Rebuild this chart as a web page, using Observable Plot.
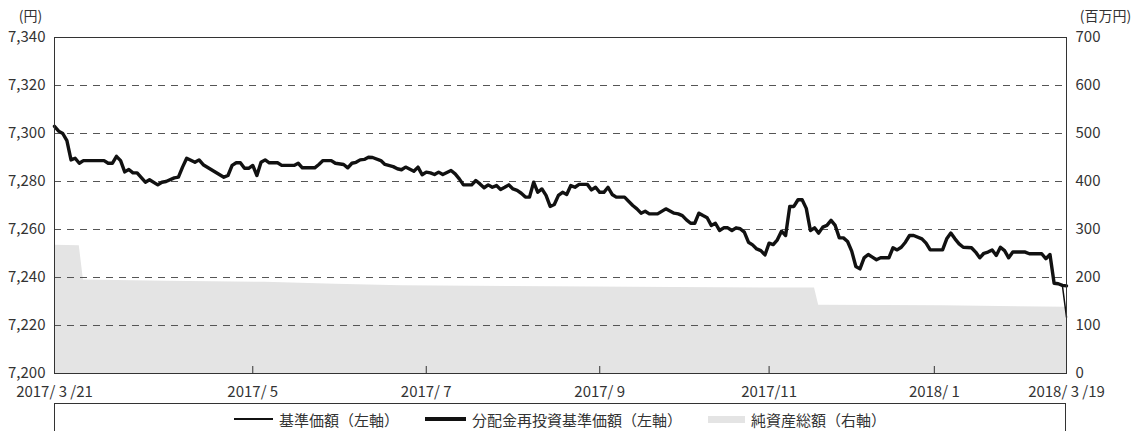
<!DOCTYPE html>
<html>
<head>
<meta charset="utf-8">
<script src="https://cdn.jsdelivr.net/npm/d3@7"></script>
<script src="https://cdn.jsdelivr.net/npm/@observablehq/plot@0.6"></script>
<style>
  html, body { margin: 0; padding: 0; background: #fff; }
  body { width: 1146px; font-family: 'Noto Sans CJK JP', 'Noto Sans', sans-serif; }
  #legend {
    margin-left: 54px; width: 1010px; height: 30px; margin-top: 3px;
    border: 1px solid #333; border-bottom: none;
    display: flex; justify-content: center; align-items: center;
    font-size: 15px; color: #333;
  }
  #legend .item { display: flex; align-items: center; margin: 0 13px; }
  #legend .sw { display: inline-block; margin-right: 6px; }
</style>
</head>
<body>
<div id="chart"></div>
<div id="legend"></div>
<script>
// Trading-day index (0 = 2017/3/21, 245 = 2018/3/19)
const dayIndex = [0,1,2,3,4,5,6,7,12,13,14,15,16,17,18,19,20,22,23,25,26,27,29,30,31,32,34,35,36,41,42,43,44,45,46,47,48,49,50,51,52,54,55,58,59,60,63,64,65,67,68,70,71,72,73,74,75,76,77,79,80,82,83,84,85,87,88,89,90,91,92,93,94,96,97,98,99,101,102,103,104,105,106,107,108,109,110,111,112,113,114,115,116,117,118,119,120,121,122,123,124,125,126,127,129,130,131,132,133,134,135,136,138,140,141,142,143,144,146,148,150,151,152,153,154,155,156,157,158,159,160,161,162,163,164,165,166,167,168,169,170,171,172,173,174,175,176,177,178,179,180,181,182,183,184,185,186,187,188,189,190,191,192,193,194,195,196,197,198,199,200,202,203,204,205,206,207,208,210,211,212,214,215,216,217,218,219,220,222,223,224,225,226,227,228,229,230,231,232,235,236,239,240,241,242,243,244,245];
// 分配金再投資基準価額 (円)
const reinvested = [7303,7301,7300,7297,7289,7289.7,7287.6,7288.7,7288.7,7287.6,7287.6,7290.5,7288.7,7284,7285,7283.6,7283.6,7279.7,7280.7,7278.6,7279.7,7280,7281.5,7281.8,7286,7289.7,7288,7289,7287,7281.8,7282.5,7286.7,7287.8,7287.8,7285.5,7285.5,7286.7,7282.5,7288,7289,7287.8,7287.8,7286.7,7286.7,7287.6,7285.7,7285.7,7287.1,7288.7,7288.7,7287.6,7287.1,7285.7,7287.6,7288,7289,7289.2,7290.1,7290,7288.7,7287.1,7286.2,7285.3,7284.9,7286,7284.3,7286,7282.8,7283.9,7283.6,7282.9,7283.9,7282.9,7284.6,7283.2,7281.1,7278.6,7278.6,7280.4,7279,7277.4,7278.6,7277.6,7278.3,7276.7,7277.6,7278.6,7276.9,7276.3,7275.1,7273.5,7273.5,7279.7,7275.5,7276.9,7274.2,7269.6,7270.4,7274.2,7275.5,7274.6,7278.3,7277.6,7278.8,7278.8,7276.5,7277.6,7275.5,7275.5,7277.6,7274.6,7273.5,7273.5,7270,7268.6,7266.8,7267.6,7266.5,7266.5,7268.6,7266.8,7266.5,7265.8,7264,7262.6,7262.6,7266.8,7265.8,7264.9,7261.7,7262.6,7259.6,7260.7,7260.7,7259.6,7260.7,7260.3,7258.9,7254.7,7253.6,7251.9,7251.2,7249.4,7254.3,7253.7,7255.7,7259.3,7257.5,7269.6,7269.6,7272.4,7272.4,7268.8,7259.6,7260.7,7258.5,7261,7261.7,7263.8,7261.7,7256.5,7256.5,7255,7251,7244.6,7243.6,7248.2,7249.6,7248.5,7247.4,7248.2,7248.2,7252.4,7251.5,7252.6,7254.7,7257.5,7257.5,7256.1,7254.3,7251.5,7251.5,7251.5,7256.1,7258.5,7256.1,7254,7252.6,7252.4,7250.6,7248.2,7250.1,7250.6,7251.5,7249.2,7252.6,7251.2,7248.2,7250.6,7250.6,7249.9,7249.9,7247.8,7249.6,7237.6,7237.4,7236.7,7236.5];
// 基準価額 (円): identical to the reinvested line except the final day (after distribution)
const baseNav = [...reinvested.slice(0, -1), 7223.5];

// 純資産総額 (百万円)
const assetIndex = [0,6,7,27,51,68,84,110,150,184,185,215,245];
const assetValue = [267,266,195,192,190,186,183,181,179,178,142,141,138];

// Axis ticks
const leftTicks = [7200,7220,7240,7260,7280,7300,7320,7340];
const gridTicks = [7220,7240,7260,7280,7300,7320];
const xTickIndex = [0,48,90,132,173,213,245];
const xTickLabels = ["2017/ 3 /21","2017/ 5","2017/ 7","2017/ 9","2017/11","2018/ 1","2018/ 3 /19"];
const legendLabels = ["基準価額（左軸）","分配金再投資基準価額（左軸）","純資産総額（右軸）"];

const leftMin = 7200, leftMax = 7340, rightMax = 700;
const toLeft = v => leftMin + v * (leftMax - leftMin) / rightMax;
const toRight = v => Math.round((v - leftMin) * rightMax / (leftMax - leftMin));

const reinvData = dayIndex.map((i, k) => ({i, v: reinvested[k]}));
const baseData = dayIndex.map((i, k) => ({i, v: baseNav[k]}));
const assetData = assetIndex.map((i, k) => ({i, v: assetValue[k]}));
const labelMap = new Map(xTickIndex.map((d, k) => [d, xTickLabels[k]]));

const chart = Plot.plot({
  width: 1146,
  height: 400,
  marginLeft: 54,
  marginRight: 80,
  marginTop: 37,
  marginBottom: 27,
  style: {fontFamily: "'Noto Sans CJK JP', 'Noto Sans', sans-serif", fontSize: "15px", color: "#333", background: "#fff"},
  x: {domain: [0, 245]},
  y: {domain: [leftMin, leftMax]},
  marks: [
    Plot.areaY(assetData, {x: "i", y1: leftMin, y2: d => toLeft(d.v), fill: "#e4e4e4"}),
    Plot.gridY(gridTicks, {stroke: "#555", strokeOpacity: 1, strokeWidth: 1, strokeDasharray: "7,6"}),
    Plot.lineY(baseData, {x: "i", y: "v", stroke: "#111", strokeWidth: 1.5}),
    Plot.lineY(reinvData, {x: "i", y: "v", stroke: "#111", strokeWidth: 3.4, strokeLinejoin: "round"}),
    Plot.axisY({anchor: "left", ticks: leftTicks, tickSize: 0, tickPadding: 9, tickFormat: d3.format(","), label: null, fill: "#333"}),
    Plot.axisY({anchor: "right", ticks: leftTicks, tickSize: 0, tickPadding: 9, tickFormat: d => String(toRight(d)), label: null, fill: "#333"}),
    Plot.axisX({ticks: xTickIndex, tickSize: 0, tickPadding: 13, tickFormat: d => labelMap.get(d), label: null, fill: "#333"}),
    Plot.tickX(xTickIndex, {x: d => d, insetTop: 329, stroke: "#333"}),
    Plot.frame({stroke: "#333"}),
    Plot.text(["(円)"], {frameAnchor: "top-left", textAnchor: "middle", dx: -24, dy: -26, text: d => d, fill: "#333", fontSize: 14}),
    Plot.text(["(百万円)"], {frameAnchor: "top-right", textAnchor: "middle", dx: 39, dy: -26, text: d => d, fill: "#333", fontSize: 14})
  ]
});
document.getElementById("chart").appendChild(chart);

// Legend
const swatches = [
  {w: 39, h: 1.5, c: "#111"},
  {w: 41, h: 3.5, c: "#111"},
  {w: 37, h: 7, c: "#e4e4e4"}
];
const legend = document.getElementById("legend");
legendLabels.forEach((t, k) => {
  const item = document.createElement("span");
  item.className = "item";
  const sw = document.createElement("span");
  sw.className = "sw";
  sw.style.width = swatches[k].w + "px";
  sw.style.height = swatches[k].h + "px";
  sw.style.background = swatches[k].c;
  const tx = document.createElement("span");
  tx.textContent = t;
  item.appendChild(sw);
  item.appendChild(tx);
  legend.appendChild(item);
});
</script>
</body>
</html>
